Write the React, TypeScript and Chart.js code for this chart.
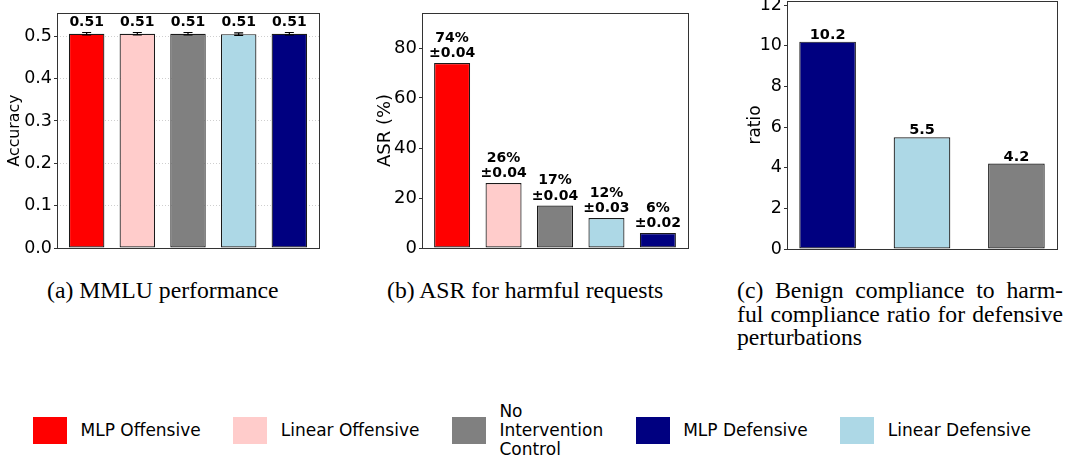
import React, { useEffect, useRef } from "react";
import { Chart, registerables } from "chart.js";

Chart.register(...registerables);

const SANS = "'DejaVu Sans', sans-serif";
const SERIF = "'Liberation Serif', 'Times New Roman', serif";

// ---------- data ----------
const RED = "#ff0000";
const PINK = "#ffcccb";
const GRAY = "#808080";
const NAVY = "#000080";
const LIGHTBLUE = "#add8e6";

const legendLabels = ["MLP Offensive", "Linear Offensive", "No\nIntervention\nControl", "MLP Defensive", "Linear Defensive"];
const legendColors = [RED, PINK, GRAY, NAVY, LIGHTBLUE];

const mmluCategories = ["MLP Offensive", "Linear Offensive", "No Intervention Control", "Linear Defensive", "MLP Defensive"];
const mmluColors = [RED, PINK, GRAY, LIGHTBLUE, NAVY];
const mmluAccuracy = [0.506, 0.506, 0.506, 0.505, 0.506];
const mmluError = [0.003, 0.003, 0.003, 0.003, 0.003];
const mmluText = ["0.51", "0.51", "0.51", "0.51", "0.51"];
const mmluTicks = [0, 0.1, 0.2, 0.3, 0.4, 0.5];

const asrCategories = ["MLP Offensive", "Linear Offensive", "No Intervention Control", "Linear Defensive", "MLP Defensive"];
const asrColors = [RED, PINK, GRAY, LIGHTBLUE, NAVY];
const asrValues = [74, 26, 17, 12, 6];
const asrStd = ["±0.04", "±0.04", "±0.04", "±0.03", "±0.02"];
const asrTicks = [0, 20, 40, 60, 80];

const ratioCategories = ["MLP Defensive", "Linear Defensive", "No Intervention Control"];
const ratioColors = [NAVY, LIGHTBLUE, GRAY];
const ratioValues = [10.2, 5.5, 4.2];
const ratioTicks = [0, 2, 4, 6, 8, 10, 12];

// ---------- panel ----------
type PanelProps = {
  left: number;
  width: number;
  height: number;
  categories: string[];
  values: number[];
  colors: string[];
  yMax: number;
  yTicks: number[];
  tickFmt: (v: number) => string;
  yTitle: string;
  titleSize: number;
  titlePad: number;
  tickSize: number;
  area: { left: number; top: number; right: number; bottom: number };
  barFrac: number;
  labels: string[][];
  labelSize: number;
  labelGap: number;
  labelLineH: number;
  errors?: number[];
  grid?: boolean;
};

function BarPanel(p: PanelProps) {
  const ref = useRef<HTMLCanvasElement | null>(null);
  useEffect(() => {
    if (!ref.current) return;
    const n = p.values.length;
    const range = n - 1 + p.barFrac;
    const xMin = -p.barFrac / 2 - 0.05 * range;
    const xMax = n - 1 + p.barFrac / 2 + 0.05 * range;

    const framePlugin = {
      id: "frame",
      afterDatasetsDraw(chart: any) {
        const ctx = chart.ctx;
        const a = chart.chartArea;
        const yScale = chart.scales.y;
        const meta = chart.getDatasetMeta(0);
        ctx.save();
        if (p.errors) {
          ctx.strokeStyle = "#000";
          ctx.lineWidth = 1.2;
          meta.data.forEach((el: any, i: number) => {
            const v = p.values[i];
            const e = p.errors![i];
            const y1 = yScale.getPixelForValue(v + e);
            const y2 = yScale.getPixelForValue(v - e);
            ctx.beginPath();
            ctx.moveTo(el.x, y1);
            ctx.lineTo(el.x, y2);
            ctx.moveTo(el.x - 4.5, y1);
            ctx.lineTo(el.x + 4.5, y1);
            ctx.moveTo(el.x - 4.5, y2);
            ctx.lineTo(el.x + 4.5, y2);
            ctx.stroke();
          });
        }
        ctx.strokeStyle = "#333";
        ctx.lineWidth = 1;
        ctx.strokeRect(a.left + 0.5, a.top + 0.5, a.right - a.left, a.bottom - a.top);
        ctx.fillStyle = "#000";
        ctx.font = `bold ${p.labelSize}px ${SANS}`;
        ctx.textAlign = "center";
        ctx.textBaseline = "alphabetic";
        meta.data.forEach((el: any, i: number) => {
          const lines = p.labels[i];
          let y = el.y - p.labelGap;
          for (let k = lines.length - 1; k >= 0; k--) {
            ctx.fillText(lines[k], el.x, y);
            y -= p.labelLineH;
          }
        });
        ctx.restore();
      },
    };

    const chart = new Chart(ref.current, {
      type: "bar",
      data: {
        labels: p.categories,
        datasets: [
          {
            data: p.values.map((v, i) => ({ x: i, y: v })) as any,
            backgroundColor: p.colors,
            borderColor: "#1a1a1a",
            borderWidth: 1.2,
            borderSkipped: false,
            categoryPercentage: 1,
            barPercentage: p.barFrac,
          },
        ],
      },
      options: {
        animation: false,
        responsive: false,
        devicePixelRatio: 1,
        layout: {
          padding: {
            left: 0,
            top: p.area.top,
            right: p.width - p.area.right,
            bottom: p.height - p.area.bottom,
          },
        },
        plugins: { legend: { display: false }, tooltip: { enabled: false } },
        scales: {
          x: {
            type: "linear",
            display: false,
            offset: false,
            min: xMin,
            max: xMax,
            afterBuildTicks: (s: any) => {
              s.ticks = p.values.map((_, i) => ({ value: i }));
            },
          },
          y: {
            type: "linear",
            min: 0,
            max: p.yMax,
            afterBuildTicks: (s: any) => {
              s.ticks = p.yTicks.map((v) => ({ value: v }));
            },
            afterFit: (s: any) => {
              s.width = p.area.left;
              s.paddingTop = 0;
              s.paddingBottom = 0;
            },
            ticks: {
              callback: (v: any) => p.tickFmt(Number(v)),
              font: { family: SANS, size: p.tickSize },
              color: "#000",
              padding: 2,
            },
            grid: {
              display: true,
              drawOnChartArea: !!p.grid,
              color: "#cfcfcf",
              lineWidth: 1,
              drawTicks: true,
              tickLength: 3,
              tickColor: "#333",
              tickWidth: 1,
            },
            border: { display: false, dash: p.grid ? [1, 2] : [] },
            title: {
              display: true,
              text: p.yTitle,
              color: "#000",
              font: { family: SANS, size: p.titleSize },
              padding: { top: p.titlePad, bottom: 0 },
            },
          },
        },
      },
      plugins: [framePlugin],
    } as any);
    return () => chart.destroy();
  }, []);
  return (
    <canvas
      ref={ref}
      width={p.width}
      height={p.height}
      style={{ position: "absolute", left: p.left, top: 0, width: p.width, height: p.height }}
    />
  );
}

const captionStyle: React.CSSProperties = {
  position: "absolute",
  top: 279,
  fontFamily: SERIF,
  fontSize: 23.7,
  lineHeight: "23.5px",
  color: "#000",
  whiteSpace: "nowrap",
};

export default function App() {
  return (
    <div
      style={{
        position: "absolute",
        left: 0,
        top: 0,
        width: 1067,
        height: 456,
        background: "#fff",
        overflow: "hidden",
      }}
    >
      <BarPanel
        left={0}
        width={330}
        height={270}
        categories={mmluCategories}
        values={mmluAccuracy}
        colors={mmluColors}
        yMax={0.555}
        yTicks={mmluTicks}
        tickFmt={(v) => v.toFixed(1)}
        yTitle="Accuracy"
        titleSize={15.8}
        titlePad={5.5}
        tickSize={17.5}
        area={{ left: 57, top: 13, right: 319, bottom: 248 }}
        barFrac={0.7}
        labels={mmluText.map((t) => [t])}
        labelSize={14}
        labelGap={7.7}
        labelLineH={15}
        errors={mmluError}
        grid={true}
      />
      <BarPanel
        left={370}
        width={330}
        height={270}
        categories={asrCategories}
        values={asrValues}
        colors={asrColors}
        yMax={94}
        yTicks={asrTicks}
        tickFmt={(v) => String(v)}
        yTitle="ASR (%)"
        titleSize={18}
        titlePad={4.2}
        tickSize={18}
        area={{ left: 52, top: 13, right: 318, bottom: 248 }}
        barFrac={0.7}
        labels={asrValues.map((v, i) => [`${v}%`, asrStd[i]])}
        labelSize={14}
        labelGap={5.6}
        labelLineH={15.5}
      />
      <BarPanel
        left={730}
        width={337}
        height={270}
        categories={ratioCategories}
        values={ratioValues}
        colors={ratioColors}
        yMax={12.2}
        yTicks={ratioTicks}
        tickFmt={(v) => String(v)}
        yTitle="ratio"
        titleSize={17}
        titlePad={15.8}
        tickSize={17.5}
        area={{ left: 57, top: 1, right: 327, bottom: 249 }}
        barFrac={0.6}
        labels={ratioValues.map((v) => [v.toFixed(1)])}
        labelSize={14.5}
        labelGap={3}
        labelLineH={15}
      />

      <div style={{ ...captionStyle, left: 47 }}>(a) MMLU performance</div>
      <div style={{ ...captionStyle, left: 387 }}>(b) ASR for harmful requests</div>
      <div style={{ ...captionStyle, left: 737, width: 326 }}>
        <div style={{ textAlignLast: "justify", textAlign: "justify" }}>(c) Benign compliance to harm-</div>
        <div style={{ textAlignLast: "justify", textAlign: "justify" }}>ful compliance ratio for defensive</div>
        <div>perturbations</div>
      </div>

      <div
        style={{
          position: "absolute",
          left: 33,
          top: 401,
          height: 58,
          display: "flex",
          alignItems: "center",
          gap: 32.5,
          fontFamily: SANS,
          fontSize: 17,
          color: "#000",
        }}
      >
        {legendLabels.map((lab, i) => (
          <div key={i} style={{ display: "flex", alignItems: "center" }}>
            <div style={{ width: 34, height: 27, background: legendColors[i], marginRight: 13.5 }} />
            <div style={{ whiteSpace: "pre", lineHeight: "19px" }}>{lab}</div>
          </div>
        ))}
      </div>
    </div>
  );
}
